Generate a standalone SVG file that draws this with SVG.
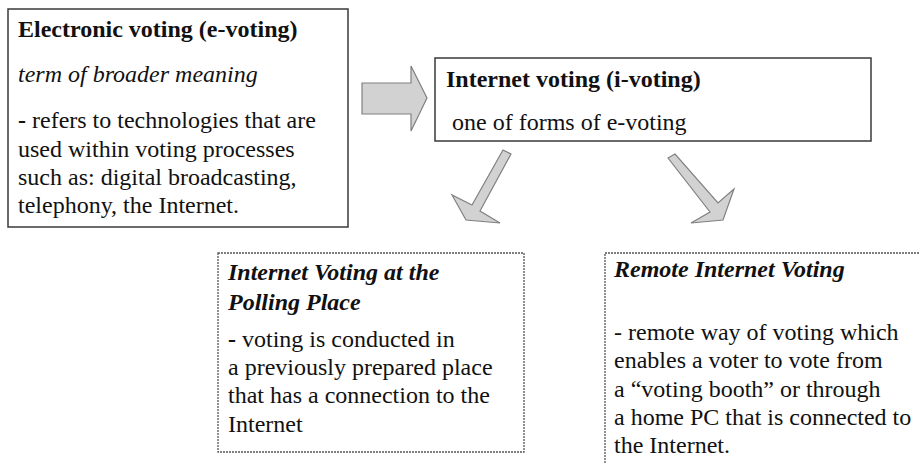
<svg xmlns="http://www.w3.org/2000/svg" width="920" height="464" viewBox="0 0 920 464">
<style>
.b{font-weight:bold}
.i{font-style:italic}
.solid{fill:#fff;stroke:#3a3a3a;stroke-width:1.5}
.dot{fill:#fff;stroke:#555;stroke-width:1.3;stroke-dasharray:2 1}
.arr{fill:#d2d2d2;stroke:#808080;stroke-width:1.2;stroke-linejoin:miter}
</style>
<rect width="920" height="464" fill="#fff"/>
<g id="connectors">
<polygon class="arr" points="362,83 411,83 411,66 427,98 411,131 411,114 362,114"/>
<polygon class="arr" points="503,150 511,154 480,211 500,223 466,220 452,195 472,205"/>
<polygon class="arr" points="668,158 675,154 718,203 734,189 723,220 691,223 710,212"/>
</g>
<g id="e-voting" font-family="Liberation Serif" font-size="24" fill="#111">
<rect class="solid" x="8" y="9" width="340" height="218"/>
<text class="b" x="18" y="37">Electronic voting (e-voting)</text>
<text class="i" x="18" y="82">term of broader meaning</text>
<text x="18" y="128"><tspan class="b">-</tspan> refers to technologies that are</text>
<text x="18" y="157">used within voting processes</text>
<text x="18" y="185">such as: digital broadcasting,</text>
<text x="18" y="213">telephony, the Internet.</text>
</g>
<g id="i-voting" font-family="Liberation Serif" font-size="24" fill="#111">
<rect class="solid" x="435" y="58" width="436" height="83"/>
<text class="b" x="446" y="87">Internet voting (i-voting)</text>
<text x="452" y="130">one of forms of e-voting</text>
</g>
<g id="polling-place" font-family="Liberation Serif" font-size="24" fill="#111">
<rect class="dot" x="218" y="253" width="306" height="199"/>
<text class="b i" x="228" y="280">Internet Voting at the</text>
<text class="b i" x="228" y="310">Polling Place</text>
<text x="228" y="347"><tspan class="b">-</tspan> voting is conducted in</text>
<text x="228" y="375">a previously prepared place</text>
<text x="228" y="403">that has a connection to the</text>
<text x="228" y="432">Internet</text>
</g>
<g id="remote" font-family="Liberation Serif" font-size="24" fill="#111">
<rect class="dot" x="605" y="253" width="320" height="220"/>
<text class="b i" x="614" y="277">Remote Internet Voting</text>
<text x="614" y="340">- remote way of voting which</text>
<text x="614" y="368">enables a voter to vote from</text>
<text x="614" y="397">a “voting booth” or through</text>
<text x="614" y="425">a home PC that is connected to</text>
<text x="614" y="453">the Internet.</text>
</g>
</svg>
